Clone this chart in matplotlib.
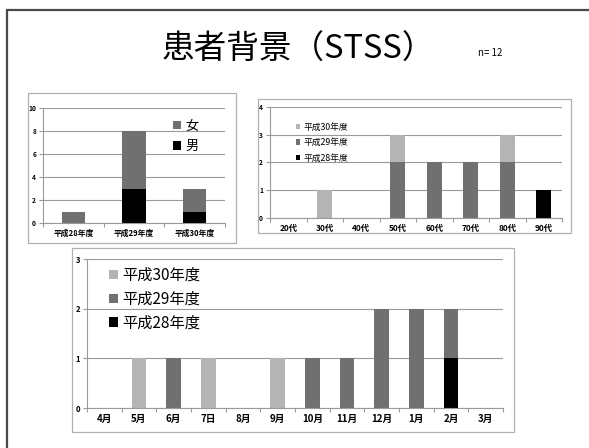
import matplotlib
matplotlib.use("Agg")
import numpy as np
import matplotlib.pyplot as plt
from matplotlib.patches import Rectangle

plt.rcParams['font.family'] = ['Noto Sans CJK JP', 'DejaVu Sans']

# chart 1: by fiscal year, sex
years = ['平成28年度', '平成29年度', '平成30年度']
male = [0, 3, 1]
female = [1, 5, 2]

# chart 2: by age group, fiscal year
ages = ['20代', '30代', '40代', '50代', '60代', '70代', '80代', '90代']
age_h28 = [0, 0, 0, 0, 0, 0, 0, 1]
age_h29 = [0, 0, 0, 2, 2, 2, 2, 0]
age_h30 = [0, 1, 0, 1, 0, 0, 1, 0]

# chart 3: by month of onset
months = ['4月', '5月', '6月', '7日', '8月', '9月', '10月', '11月', '12月', '1月', '2月', '3月']
mon_h28 = [0, 0, 0, 0, 0, 0, 0, 0, 0, 0, 1, 0]
mon_h29 = [0, 0, 1, 0, 0, 0, 1, 1, 2, 2, 1, 0]
mon_h30 = [0, 1, 0, 1, 0, 1, 0, 0, 0, 0, 0, 0]

C_LIGHT = '#b4b4b4'
C_DARK = '#707070'
C_BLACK = '#000000'
GRID = '#9a9a9a'

fig = plt.figure(figsize=(5.89, 4.48), dpi=100)

# slide frame
fig.patches.append(Rectangle((7/589, -0.1), 1.1, (448-10)/448 + 0.1, transform=fig.transFigure,
                             fill=False, edgecolor='#4a4a4a', lw=1.6, clip_on=False))
# chart frames
for x0, y0, x1, y1 in [(28, 93, 236, 243), (258, 99, 571, 233), (72, 248, 514, 432)]:
    fig.patches.append(Rectangle((x0/589, 1 - y1/448), (x1-x0)/589, (y1-y0)/448,
                                 transform=fig.transFigure, fill=False,
                                 edgecolor='#b0b0b0', lw=0.9))

fig.text(298/589, 1 - 50/448, '患者背景（STSS）', ha='center', va='center', fontsize=23.5)
fig.text(490/589, 1 - 53/448, 'n= 12', ha='center', va='center', fontsize=7)


def style(ax, labels, ymax, ystep, fs, yfs):
    n = len(labels)
    ax.set_xlim(-0.5, n - 0.5)
    ax.set_ylim(0, ymax)
    ax.set_yticks(np.arange(0, ymax + 0.01, ystep))
    ax.set_xticks(np.arange(n))
    ax.set_xticklabels(labels)
    ax.set_xticks(np.arange(n + 1) - 0.5, minor=True)
    ax.tick_params(axis='x', which='major', length=0, labelsize=fs, pad=4)
    ax.tick_params(axis='x', which='minor', length=3, color=GRID, width=0.8)
    ax.tick_params(axis='y', length=3, color=GRID, width=0.8, labelsize=yfs, pad=2)
    for lab in ax.get_xticklabels() + ax.get_yticklabels():
        lab.set_fontweight('bold')
    for s in ['top', 'right']:
        ax.spines[s].set_visible(False)
    for s in ['left', 'bottom']:
        ax.spines[s].set_color(GRID)
        ax.spines[s].set_linewidth(0.8)
    ax.yaxis.grid(True, color=GRID, lw=0.8)
    ax.set_axisbelow(True)


# chart 1
ax1 = fig.add_axes([43/589, 1 - 223/448, 182/589, 115/448])
x = np.arange(len(years))
b_m = ax1.bar(x, male, width=0.39, color=C_BLACK)
b_f = ax1.bar(x, female, width=0.39, bottom=male, color=C_DARK)
style(ax1, years, 10, 2, 5.6, 4.8)
ax1.legend([b_f, b_m], ['女', '男'], loc='upper left', bbox_to_anchor=(0.68, 0.955),
           frameon=False, fontsize=9.5, handlelength=0.6, handleheight=0.6,
           handletextpad=0.3, labelspacing=0.55, borderpad=0)

# chart 2
ax2 = fig.add_axes([270/589, 1 - 218/448, 292/589, 111/448])
x = np.arange(len(ages))
a28 = np.array(age_h28)
a29 = np.array(age_h29)
a30 = np.array(age_h30)
h28 = ax2.bar(x, a28, width=0.41, color=C_BLACK)
h29 = ax2.bar(x, a29, width=0.41, bottom=a28, color=C_DARK)
h30 = ax2.bar(x, a30, width=0.41, bottom=a28 + a29, color=C_LIGHT)
style(ax2, ages, 4, 1, 6, 4.8)
ax2.legend([h30, h29, h28], ['平成30年度', '平成29年度', '平成28年度'], loc='upper left',
           bbox_to_anchor=(0.073, 0.9), frameon=False, fontsize=6.3, handlelength=0.5,
           handleheight=0.6, handletextpad=0.35, labelspacing=0.75, borderpad=0)

# chart 3
ax3 = fig.add_axes([87/589, 40/448, 416/589, 149/448])
x = np.arange(len(months))
m28 = np.array(mon_h28)
m29 = np.array(mon_h29)
m30 = np.array(mon_h30)
k28 = ax3.bar(x, m28, width=0.43, color=C_BLACK)
k29 = ax3.bar(x, m29, width=0.43, bottom=m28, color=C_DARK)
k30 = ax3.bar(x, m30, width=0.43, bottom=m28 + m29, color=C_LIGHT)
style(ax3, months, 3, 1, 7, 5.5)
ax3.legend([k30, k29, k28], ['平成30年度', '平成29年度', '平成28年度'], loc='upper left',
           bbox_to_anchor=(0.035, 1.0), frameon=False, fontsize=11, handlelength=0.55,
           handleheight=0.55, handletextpad=0.3, labelspacing=0.45, borderpad=0)

fig.savefig('out.png', dpi=100)
